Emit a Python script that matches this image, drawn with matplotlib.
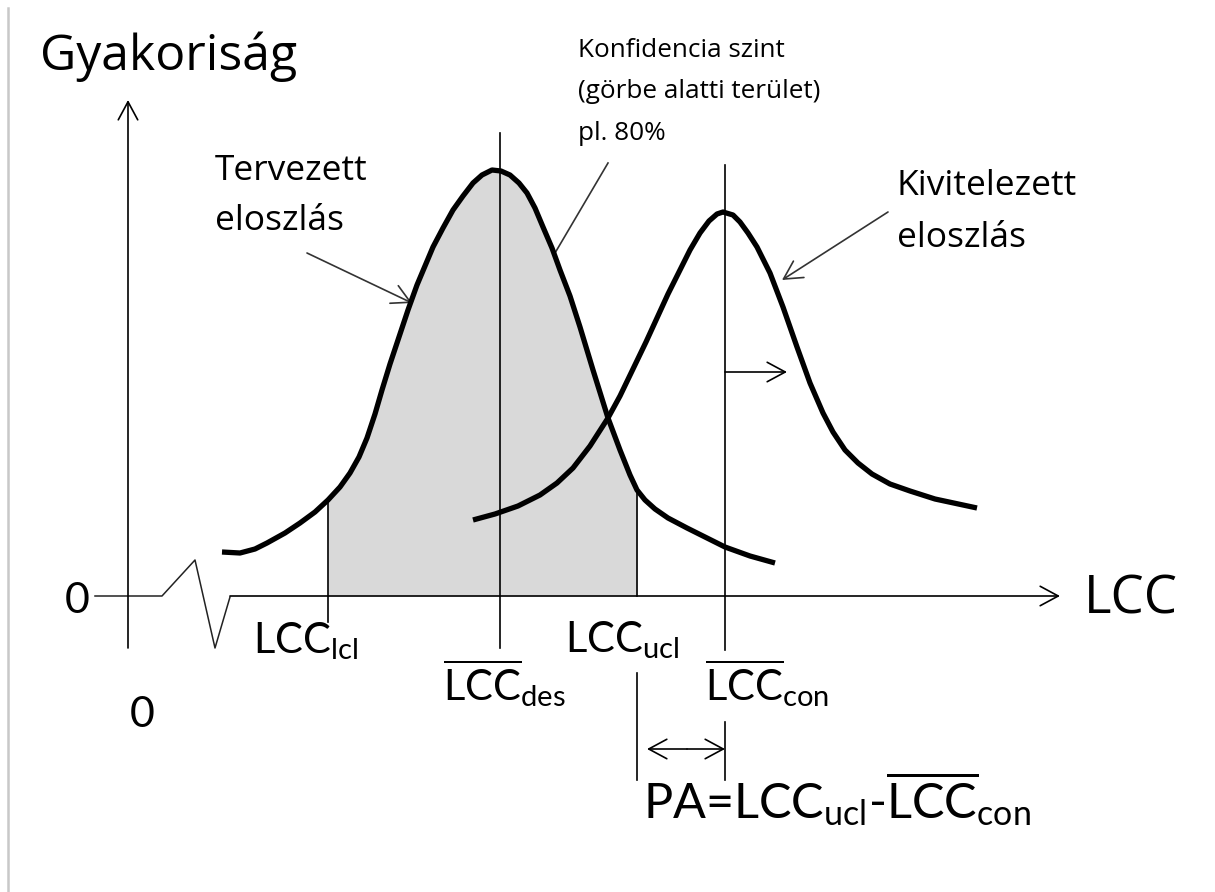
import numpy as np
import matplotlib.pyplot as plt

# diagram, coordinates in image pixels (y grows downward)
terv_x = [222, 240, 255, 267, 285, 300, 315, 328, 340, 350, 359, 367, 375, 382, 390, 400,
          408, 417, 425, 433, 443, 453, 463, 473, 482, 492, 501, 510, 519, 527, 535, 543,
          552, 560, 570, 580, 593, 608, 620, 630, 637, 645, 655, 668, 687, 707, 725, 750, 775]
terv_y = [552, 553, 549, 543, 533, 523, 512, 500, 487, 473, 457, 438, 414, 390, 364, 334,
          310, 285, 266, 247, 228, 210, 196, 183, 175, 170, 171, 175, 183, 193, 208, 227,
          248, 270, 296, 327, 370, 418, 450, 475, 490, 500, 509, 518, 528, 538, 547, 556, 563]

kiv_x = [473, 495, 518, 540, 557, 573, 590, 608, 620, 633, 646, 657, 668, 680, 690, 700,
         709, 717, 723, 733, 740, 748, 757, 770, 783, 797, 810, 823, 833, 845, 858, 872,
         890, 910, 935, 977]
kiv_y = [520, 514, 506, 495, 483, 468, 446, 418, 396, 369, 342, 318, 294, 270, 250, 233,
         221, 214, 212, 215, 222, 233, 247, 273, 307, 347, 383, 413, 432, 450, 463, 474,
         484, 491, 499, 508]

axis_y = 596
x_lcl, x_des, x_ucl, x_con = 328, 500, 637, 725

plt.rcParams['font.family'] = ['Open Sans', 'DejaVu Sans']
plt.rcParams['mathtext.fontset'] = 'custom'
plt.rcParams['mathtext.rm'] = 'Lato'
plt.rcParams['mathtext.it'] = 'Lato:italic'
plt.rcParams['mathtext.bf'] = 'Lato:bold'

fig = plt.figure(figsize=(12.15, 8.92), dpi=100)
ax = fig.add_axes([0, 0, 1, 1])
ax.set_xlim(0, 1215)
ax.set_ylim(892, 0)
ax.axis('off')

# left border
ax.plot([8, 8], [8, 892], color='#c8c8c8', lw=1.8)

# shaded confidence area
tx = np.array(terv_x)
ty = np.array(terv_y)
m = (tx >= x_lcl) & (tx <= x_ucl)
ax.fill_between(tx[m], ty[m], axis_y, color='#d9d9d9', lw=0, zorder=1)

thin = dict(color='black', lw=1.2, zorder=3)
head = '->,head_length=13,head_width=7'


def arrow(x0, y0, x1, y1, style=head, lw=1.2, color='black'):
    ax.annotate('', xy=(x1, y1), xytext=(x0, y0),
                arrowprops=dict(arrowstyle=style, lw=lw, color=color,
                                mutation_scale=1, shrinkA=0, shrinkB=0), zorder=4)


# axes
arrow(128, 648, 128, 100)
ax.plot([95, 162, 195, 215, 230], [axis_y, axis_y, 560, 648, 597], color='#222222', lw=1.1, zorder=3)
arrow(230, axis_y, 1060, axis_y)

# vertical markers
ax.plot([x_lcl, x_lcl], [500, 622], **thin)
ax.plot([x_des, x_des], [133, 648], **thin)
ax.plot([x_ucl, x_ucl], [490, axis_y], **thin)
ax.plot([x_ucl, x_ucl], [673, 780], **thin)
ax.plot([x_con, x_con], [165, 650], **thin)
ax.plot([x_con, x_con], [722, 780], **thin)

# curves
ax.plot(terv_x, terv_y, color='black', lw=3.8, solid_capstyle='butt', solid_joinstyle='round', zorder=5)
ax.plot(kiv_x, kiv_y, color='black', lw=3.8, solid_capstyle='butt', solid_joinstyle='round', zorder=5)

# callouts
arrow(307, 253, 412, 303, color='#333333')
arrow(888, 212, 782, 280, color='#333333')
ax.plot([608, 555], [163, 253], color='#333333', lw=1.2, zorder=4)
arrow(x_con, 372, 787, 372)
arrow(687, 749, x_ucl + 10, 749)
arrow(687, 749, x_con, 749)

# texts
ax.text(40, 70, 'Gyakoriság', fontsize=36, va='baseline')
ax.text(215, 180, 'Tervezett', fontsize=25.5, va='baseline')
ax.text(215, 230, 'eloszlás', fontsize=25.5, va='baseline')
ax.text(578, 57, 'Konfidencia szint', fontsize=18.8, va='baseline')
ax.text(578, 98, '(görbe alatti terület)', fontsize=18.8, va='baseline')
ax.text(578, 140, 'pl. 80%', fontsize=18.8, va='baseline')
ax.text(897, 195, 'Kivitelezett', fontsize=25.5, va='baseline')
ax.text(897, 247, 'eloszlás', fontsize=25.5, va='baseline')
ax.text(1084, 613, 'LCC', fontsize=38, va='baseline')
ax.text(65, 613, '0', fontsize=31, va='baseline', family='Lato')
ax.text(130, 727, '0', fontsize=31, va='baseline', family='Lato')
ax.text(253, 653, r'LCC$_{\mathrm{lcl}}$', fontsize=30, va='baseline', family='Lato')
ax.text(443, 700, r'$\overline{\mathrm{LCC}}_{\mathrm{des}}$', fontsize=30, va='baseline')
ax.text(565, 652, r'LCC$_{\mathrm{ucl}}$', fontsize=30, va='baseline', family='Lato')
ax.text(705, 700, r'$\overline{\mathrm{LCC}}_{\mathrm{con}}$', fontsize=30, va='baseline')
ax.text(643, 818, r'PA=LCC$_{\mathrm{ucl}}$-$\overline{\mathrm{LCC}}_{\mathrm{con}}$',
        fontsize=35, va='baseline', family='Lato')

fig.savefig('out.png', dpi=100)
